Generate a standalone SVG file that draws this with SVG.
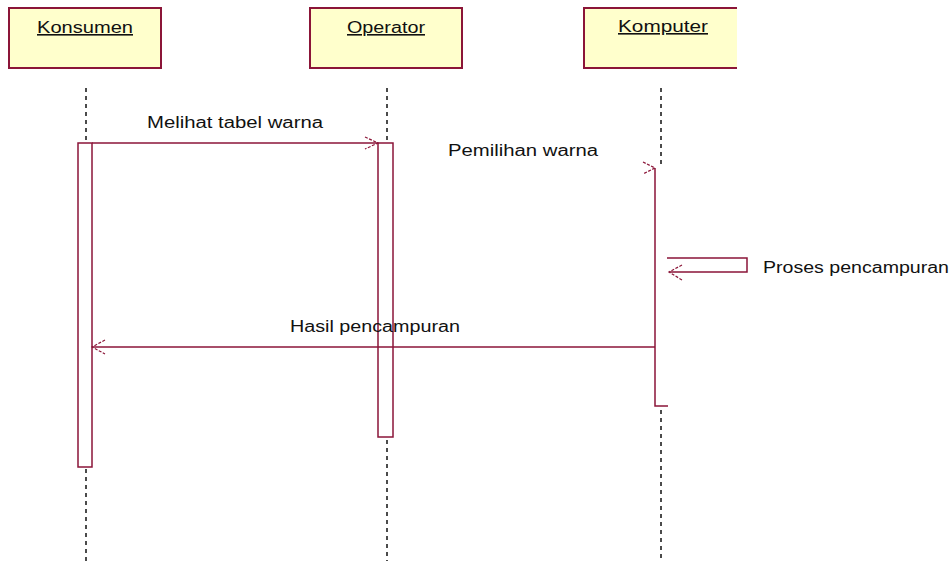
<svg xmlns="http://www.w3.org/2000/svg" width="952" height="561" viewBox="0 0 952 561">
<style>
.box{fill:#ffffcc;stroke:none}
.bord{fill:none;stroke:#8b1538;stroke-width:2}
.lbl{font-family:"Liberation Sans",Arial,sans-serif;font-size:16px;fill:#111}
.life{stroke:#111;stroke-width:1.5;stroke-dasharray:4 4;fill:none}
.act{fill:#ffffff;stroke:#8b1538;stroke-width:1.5}
.msg{stroke:#8b1538;stroke-width:1.5;fill:none}
.head{stroke:#8b1538;stroke-width:1.2;fill:none;stroke-dasharray:3 1.5}
</style>
<rect width="952" height="561" fill="#ffffff"/>
<g id="konsumen">
<rect class="box" x="9" y="8" width="152" height="60"/>
<rect class="bord" x="9" y="8" width="152" height="60"/>
<text class="lbl" x="37" y="33" textLength="96" lengthAdjust="spacingAndGlyphs" text-decoration="underline">Konsumen</text>
<line class="life" x1="86" y1="88" x2="86" y2="143"/>
<line class="life" x1="86" y1="469" x2="86" y2="561"/>
<rect class="act" x="78" y="143" width="14" height="324"/>
</g>
<g id="operator">
<rect class="box" x="310" y="8" width="152" height="60"/>
<rect class="bord" x="310" y="8" width="152" height="60"/>
<text class="lbl" x="347" y="33" textLength="78" lengthAdjust="spacingAndGlyphs" text-decoration="underline">Operator</text>
<line class="life" x1="387" y1="88" x2="387" y2="143"/>
<line class="life" x1="387" y1="440" x2="387" y2="561"/>
<rect class="act" x="378" y="143" width="15" height="294"/>
</g>
<g id="komputer">
<rect class="box" x="584" y="8" width="153" height="60"/>
<path class="bord" d="M737,8 H584 V68 H737"/>
<text class="lbl" x="618" y="32" textLength="90" lengthAdjust="spacingAndGlyphs" text-decoration="underline">Komputer</text>
<line class="life" x1="661" y1="88" x2="661" y2="166"/>
<line class="life" x1="661" y1="410" x2="661" y2="561"/>
<path class="msg" d="M655,168 V406 H668"/>
</g>
<g id="connectors">
<line class="msg" x1="92" y1="143" x2="378" y2="143"/>
<path class="head" d="M365,137 L378,143 L365,149"/>
<text class="lbl" x="147" y="128" textLength="176" lengthAdjust="spacingAndGlyphs">Melihat tabel warna</text>
<path class="head" d="M643,162 L655,168 L643,174"/>
<text class="lbl" x="448" y="156" textLength="150" lengthAdjust="spacingAndGlyphs">Pemilihan warna</text>
<path class="msg" d="M667,258 H747 V272 H670"/>
<path class="head" d="M682,265 L669,272 L682,280"/>
<text class="lbl" x="763" y="273" textLength="186" lengthAdjust="spacingAndGlyphs">Proses pencampuran</text>
<line class="msg" x1="655" y1="347" x2="92" y2="347"/>
<path class="head" d="M105,340 L92,347 L105,354"/>
<text class="lbl" x="290" y="332" textLength="170" lengthAdjust="spacingAndGlyphs">Hasil pencampuran</text>
</g>
</svg>
